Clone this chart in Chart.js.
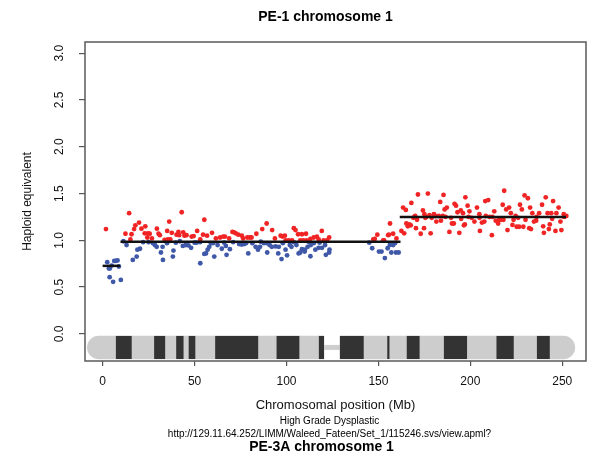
<!DOCTYPE html>
<html>
<head>
<meta charset="utf-8">
<script src="https://cdn.jsdelivr.net/npm/chart.js@4.4.1/dist/chart.umd.min.js"></script>
<style>
    body { margin: 0; background: #fff; }
    #wrap { width: 590px; height: 454px; }
</style>
</head>
<body>
<div id="wrap"><canvas id="chromChart" width="590" height="454"></canvas></div>
<script>
// Probe values above 1.0 (red)
const redPos = [
    1.8, 12.4, 14.4, 15.1, 15.7, 17.1, 17.8, 19.8, 21.1, 22.9, 23.2, 24.3, 24.7, 25.6, 26.8, 29.5,
    30.4, 31.1, 33.7, 35.1, 35.5, 36.2, 36.8, 37.6, 40.2, 41.2, 41.6, 43.0, 43.8, 44.5, 45.6, 48.4,
    49.5, 51.4, 53.1, 54.6, 55.3, 56.8, 59.5, 61.6, 63.9, 65.6, 66.5, 68.8, 70.6, 71.5, 72.4, 73.8,
    75.7, 76.4, 78.7, 80.0, 81.0, 83.6, 86.8, 89.2, 92.2, 93.7, 96.8, 97.8, 99.1, 99.5, 101.2, 103.0,
    104.0, 104.9, 106.3, 107.5, 108.4, 109.2, 110.6, 111.0, 113.0, 114.8, 116.5, 117.5, 119.2, 120.2, 122.0, 123.2,
    147.2, 148.0, 149.4, 152.6, 153.1, 155.3, 155.7, 156.3, 158.0, 159.8, 162.5, 163.4, 164.0, 164.9, 165.2, 166.0,
    166.8, 167.6, 167.9, 169.0, 169.5, 170.0, 170.4, 171.0, 171.5, 173.0, 174.2, 174.8, 175.0, 175.5, 176.0, 176.9,
    177.8, 178.4, 179.0, 180.2, 181.0, 181.5, 182.8, 183.6, 184.0, 185.0, 185.4, 186.0, 186.5, 187.2, 188.6, 189.5,
    190.0, 191.0, 191.4, 192.2, 193.0, 194.0, 194.8, 195.0, 196.0, 196.5, 197.0, 197.3, 198.5, 199.0, 199.5, 200.7,
    202.2, 203.6, 204.9, 205.0, 205.2, 206.3, 207.6, 208.1, 208.4, 209.7, 210.5, 211.7, 212.0, 213.0, 213.8, 215.1,
    215.7, 216.9, 217.6, 218.0, 218.4, 219.5, 220.2, 221.1, 222.0, 222.9, 223.5, 224.6, 225.2, 226.0, 226.5, 227.0,
    228.0, 228.8, 229.5, 230.0, 231.3, 232.0, 232.5, 233.0, 233.7, 234.6, 235.8, 236.0, 237.4, 239.0, 239.6, 240.0,
    241.0, 242.0, 242.7, 243.2, 244.0, 244.5, 245.0, 246.3, 246.8, 248.0, 249.0, 249.5, 250.8, 251.0, 252.2
];
const redVal = [
    1.12, 1.07, 1.29, 1.01, 1.065, 1.12, 1.16, 1.19, 1.125, 1.075, 1.15, 1.03, 1.075, 1.07, 1.02, 1.125,
    1.07, 1.055, 1.005, 1.10, 1.01, 1.20, 1.01, 1.08, 1.06, 1.09, 1.055, 1.30, 1.085, 1.05, 1.055, 1.04,
    1.045, 1.10, 1.01, 1.06, 1.22, 1.05, 1.08, 1.02, 1.03, 1.04, 1.04, 1.02, 1.09, 1.085, 1.075, 1.06,
    1.05, 1.02, 1.03, 1.03, 1.03, 1.07, 1.12, 1.18, 1.11, 1.02, 1.05, 1.04, 1.05, 1.0, 1.0, 1.0,
    1.13, 1.11, 1.065, 1.0, 1.065, 1.0, 1.07, 1.0, 1.015, 1.03, 1.04, 1.01, 1.10, 1.0, 1.0, 1.03,
    1.01, 1.015, 1.06, 1.0, 1.0, 1.055, 1.06, 1.18, 1.07, 1.02, 1.10, 1.35, 1.075, 1.325, 1.18, 1.15,
    1.17, 1.16, 1.40, 1.24, 1.25, 1.26, 1.13, 1.22, 1.49, 1.07, 1.32, 1.13, 1.28, 1.24, 1.25, 1.50,
    1.27, 1.075, 1.24, 1.28, 1.26, 1.20, 1.26, 1.41, 1.21, 1.26, 1.485, 1.33, 1.25, 1.35, 1.09, 1.24,
    1.18, 1.18, 1.39, 1.37, 1.30, 1.08, 1.32, 1.23, 1.29, 1.16, 1.17, 1.46, 1.37, 1.25, 1.31, 1.24,
    1.20, 1.35, 1.28, 1.24, 1.10, 1.19, 1.20, 1.42, 1.26, 1.43, 1.25, 1.055, 1.25, 1.31, 1.21, 1.18,
    1.22, 1.22, 1.38, 1.22, 1.53, 1.33, 1.11, 1.35, 1.29, 1.165, 1.22, 1.26, 1.145, 1.24, 1.145, 1.38,
    1.33, 1.145, 1.48, 1.22, 1.45, 1.13, 1.35, 1.12, 1.29, 1.20, 1.21, 1.25, 1.29, 1.38, 1.15, 1.08,
    1.46, 1.29, 1.12, 1.17, 1.29, 1.23, 1.42, 1.10, 1.29, 1.35, 1.20, 1.11, 1.28, 1.25, 1.26
];

// Probe values below 1.0 (blue)
const bluePos = [
    2.5, 3.4, 3.8, 3.9, 4.9, 5.7, 6.3, 7.2, 8.1, 8.8, 9.9, 11.3, 13.0, 16.4, 18.5, 18.9,
    20.3, 22.0, 25.0, 27.4, 28.4, 29.4, 31.7, 32.6, 32.8, 35.0, 38.2, 38.5, 39.8, 42.0, 43.6, 45.2,
    46.7, 48.1, 50.0, 51.0, 53.0, 53.1, 55.3, 56.2, 57.1, 58.0, 58.9, 60.0, 60.7, 62.5, 64.8, 66.1,
    67.0, 67.4, 69.2, 71.0, 74.2, 75.6, 77.0, 78.0, 79.2, 81.4, 83.2, 84.5, 85.6, 86.0, 87.7, 89.4,
    89.5, 90.8, 92.0, 94.0, 95.5, 95.8, 97.3, 98.0, 99.5, 100.3, 101.8, 102.7, 104.0, 105.4, 106.6, 107.5,
    108.4, 109.9, 110.0, 111.5, 112.0, 113.0, 113.2, 114.8, 115.7, 117.5, 118.0, 119.3, 121.0, 121.4, 123.2, 123.4,
    145.0, 146.6, 150.3, 151.7, 153.5, 155.0, 156.2, 157.0, 158.0, 159.0, 159.5, 161.0
];
const blueVal = [
    0.766, 0.70, 0.606, 0.70, 0.73, 0.556, 0.78, 0.78, 0.785, 0.72, 0.577, 0.99, 0.95, 0.79, 0.826, 0.90,
    0.91, 0.98, 0.98, 0.97, 0.95, 0.93, 0.87, 0.93, 0.79, 0.97, 0.826, 0.89, 0.975, 0.99, 0.94, 0.95,
    0.945, 0.92, 0.975, 0.975, 0.98, 0.755, 0.855, 0.86, 0.90, 0.93, 0.97, 0.97, 0.826, 0.95, 0.91, 0.975,
    0.94, 0.845, 0.905, 0.98, 0.96, 0.955, 0.96, 0.97, 0.86, 0.97, 0.93, 0.90, 0.93, 0.985, 0.97, 0.97,
    0.87, 0.95, 0.93, 0.935, 0.86, 0.93, 0.80, 0.97, 0.90, 0.84, 0.95, 0.93, 0.98, 0.95, 0.86, 0.87,
    0.905, 0.88, 0.90, 0.93, 0.985, 0.83, 0.95, 0.97, 0.90, 0.92, 0.975, 0.92, 0.95, 0.845, 0.87, 0.90,
    0.975, 0.915, 0.88, 0.88, 0.81, 0.915, 0.95, 0.87, 0.95, 0.97, 0.87, 0.87
];

// Segmentation means
const segStart = [0, 9.7, 161.6];
const segEnd = [9.6, 162, 252];
const segValue = [0.727, 0.986, 1.25];

// Chromosome 1 ideogram (Mb)
const ideoStart = -8.5;
const ideoEnd = 257;
const cenStart = 120.5;
const cenEnd = 129;
const bandStart = [7.2, 28, 40, 46.8, 61.2, 94.6, 117.6, 128.8, 154.8, 165.4, 185.6, 214.2, 236.2];
const bandEnd = [15.8, 34, 44, 50.4, 84.6, 107, 120.5, 142, 156, 172.4, 198.2, 223.6, 243.2];

const xTicks = [0, 50, 100, 150, 200, 250];
const yTicks = [0, 0.5, 1, 1.5, 2, 2.5, 3];

const toPoints = (xs, ys) => xs.map((x, i) => ({ x: x, y: ys[i] }));

const segmentSets = segStart.map((s, i) => ({
    type: 'scatter',
    data: [{ x: s, y: segValue[i] }, { x: segEnd[i], y: segValue[i] }],
    showLine: true,
    borderColor: '#111111',
    borderWidth: 2.5,
    pointRadius: 0,
    order: 0
}));

const ideogramPlugin = {
    id: 'ideogram',
    beforeDatasetsDraw(chart) {
        const ctx = chart.ctx;
        const xs = chart.scales.x;
        const ys = chart.scales.y;
        const top = ys.getPixelForValue(-0.02);
        const bottom = ys.getPixelForValue(-0.27);
        const h = bottom - top;
        const r = h / 2;
        const arms = [
            [ideoStart, cenStart, [r, 0, 0, r]],
            [cenEnd, ideoEnd, [0, r, r, 0]]
        ];
        ctx.save();
        // thin centromere link
        const cy = (top + bottom) / 2;
        ctx.fillStyle = '#cdcdcd';
        ctx.fillRect(xs.getPixelForValue(cenStart), cy - 2.5, xs.getPixelForValue(cenEnd) - xs.getPixelForValue(cenStart), 5);
        arms.forEach(([a, b, radii]) => {
            const x0 = xs.getPixelForValue(a);
            const x1 = xs.getPixelForValue(b);
            ctx.save();
            ctx.beginPath();
            ctx.roundRect(x0, top, x1 - x0, h, radii);
            ctx.fillStyle = '#cdcdcd';
            ctx.fill();
            ctx.clip();
            ctx.fillStyle = '#333333';
            bandStart.forEach((bs, i) => {
                const b0 = xs.getPixelForValue(bs);
                const b1 = xs.getPixelForValue(bandEnd[i]);
                ctx.fillRect(b0, top, b1 - b0, h);
            });
            ctx.restore();
        });
        ctx.restore();
    }
};

const framePlugin = {
    id: 'frame',
    afterDraw(chart) {
        const ctx = chart.ctx;
        const a = chart.chartArea;
        ctx.save();
        ctx.strokeStyle = '#5a5a5a';
        ctx.lineWidth = 1.5;
        ctx.strokeRect(a.left, a.top, a.right - a.left, a.bottom - a.top);

        const cx = (a.left + a.right) / 2 - 6;
        ctx.fillStyle = '#000';
        ctx.textAlign = 'center';
        ctx.textBaseline = 'middle';
        ctx.font = 'bold 14px "Liberation Sans", Arial, sans-serif';
        ctx.fillText('PE-1 chromosome 1', cx - 4, 17);
        ctx.font = '10px "Liberation Sans", Arial, sans-serif';
        ctx.fillText('High Grade Dysplastic', cx, 421);
        ctx.fillText('http://129.11.64.252/LIMM/Waleed_Fateen/Set_1/115246.svs/view.apml?', cx, 434);
        ctx.font = 'bold 14px "Liberation Sans", Arial, sans-serif';
        ctx.fillText('PE-3A chromosome 1', cx - 8, 447);
        ctx.restore();
    }
};

const ctx = document.getElementById('chromChart').getContext('2d');
const myChart = new Chart(ctx, {
    type: 'scatter',
    data: {
        datasets: [
            {
                data: toPoints(redPos, redVal),
                backgroundColor: '#f02424',
                pointRadius: 2.4,
                pointBorderWidth: 0,
                order: 1
            },
            {
                data: toPoints(bluePos, blueVal),
                backgroundColor: '#3f58a8',
                pointRadius: 2.4,
                pointBorderWidth: 0,
                order: 1
            },
            ...segmentSets
        ]
    },
    options: {
        responsive: false,
        animation: false,
        devicePixelRatio: 1,
        layout: { padding: { top: 42, right: 1, bottom: 43, left: 0 } },
        plugins: {
            legend: { display: false },
            tooltip: { enabled: false }
        },
        scales: {
            x: {
                type: 'linear',
                min: -9.6,
                max: 262.9,
                afterBuildTicks: s => { s.ticks = xTicks.map(v => ({ value: v })); },
                afterFit: s => { s.height = 50; },
                border: { display: false },
                grid: { drawOnChartArea: false, drawTicks: true, tickLength: 5, color: '#555', lineWidth: 1.2 },
                ticks: {
                    color: '#111',
                    padding: 8,
                    maxRotation: 0,
                    font: { family: '"Liberation Sans", Arial, sans-serif', size: 12 },
                    callback: v => String(v)
                },
                title: {
                    display: true,
                    text: 'Chromosomal position (Mb)',
                    color: '#111',
                    padding: { top: 4, bottom: -2 },
                    font: { family: '"Liberation Sans", Arial, sans-serif', size: 13 }
                }
            },
            y: {
                type: 'linear',
                min: -0.29,
                max: 3.12,
                afterBuildTicks: s => { s.ticks = yTicks.map(v => ({ value: v })); },
                afterFit: s => { s.width = 85; },
                border: { display: false },
                grid: { drawOnChartArea: false, drawTicks: true, tickLength: 6, color: '#555', lineWidth: 1.2 },
                ticks: {
                    color: '#111',
                    minRotation: 90,
                    maxRotation: 90,
                    crossAlign: 'center',
                    padding: 11,
                    font: { family: '"Liberation Sans Narrow", "Liberation Sans", sans-serif', size: 12 },
                    callback: v => v.toFixed(1)
                },
                title: {
                    display: true,
                    text: 'Haploid equivalent',
                    color: '#111',
                    padding: { top: 20, bottom: 0 },
                    font: { family: '"Liberation Sans Narrow", "Liberation Sans", sans-serif', size: 12 }
                }
            }
        }
    },
    plugins: [ideogramPlugin, framePlugin]
});
</script>
</body>
</html>
